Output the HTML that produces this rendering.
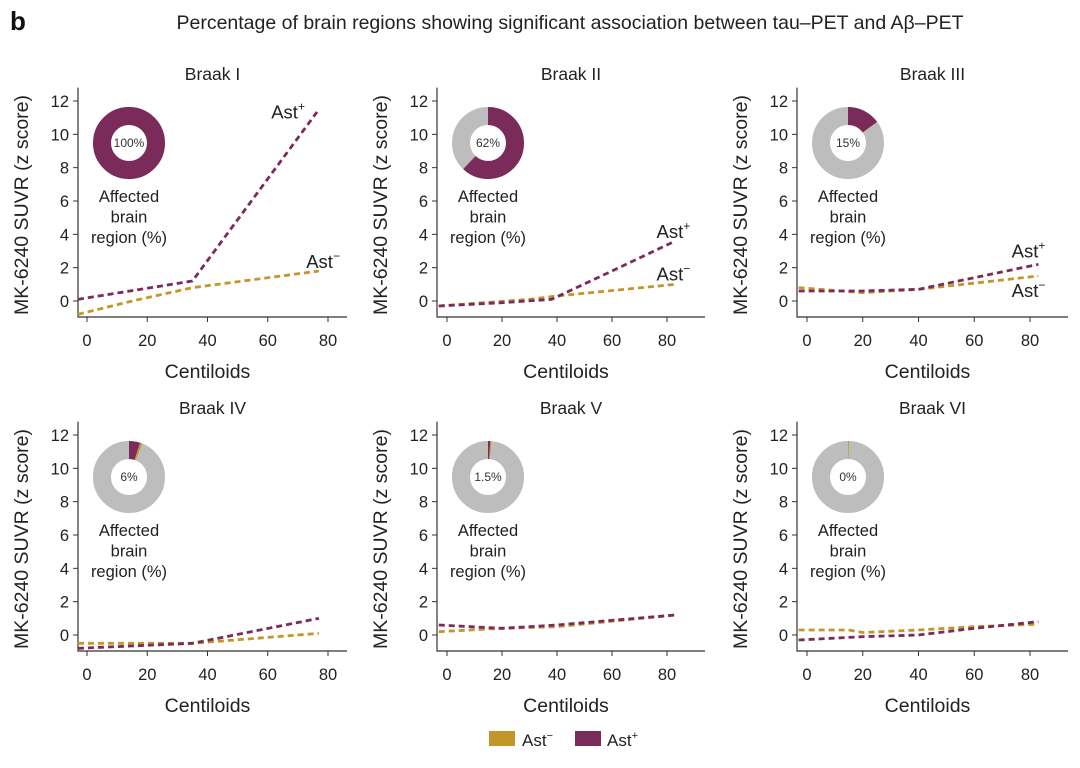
<!DOCTYPE html>
<html><head><meta charset="utf-8"><style>
body{margin:0;background:#fff;}
svg{display:block;font-family:"Liberation Sans",sans-serif;}
</style></head><body>
<svg id="chart" width="1080" height="768" viewBox="0 0 1080 768">
<text x="10" y="30" font-size="26" font-weight="bold" fill="#111">b</text>
<text x="570" y="29" font-size="19.5" fill="#222" text-anchor="middle">Percentage of brain regions showing significant association between tau–PET and Aβ–PET</text>
<g>
<rect x="489" y="731" width="26" height="15" fill="#c4962a"/>
<text x="522" y="746" font-size="17" fill="#222">Ast<tspan dy="-7" font-size="11">−</tspan></text>
<rect x="575" y="731" width="26" height="15" fill="#7b2b5a"/>
<text x="607" y="746" font-size="17" fill="#222">Ast<tspan dy="-7" font-size="11">+</tspan></text>
</g>
</svg>
<script>
const titles=["Braak I","Braak II","Braak III","Braak IV","Braak V","Braak VI"];
const pctLabels=["100%","62%","15%","6%","1.5%","0%"];
const posShare=[100,62,15,5,1,0];
const negShare=[0,0,0,1,0.5,0.4];
const posX=[[-3,35,77],[-3,20,38,60,83],[-3,20,40,83],[-3,35,77],[-3,20,40,83],[-3,20,40,60,83]];
const posY=[[0.1,1.2,11.5],[-0.3,-0.1,0.1,1.8,3.6],[0.6,0.6,0.7,2.2],[-0.8,-0.5,1.0],[0.6,0.4,0.6,1.2],[-0.3,-0.1,0,0.4,0.8]];
const negX=[[-3,15,35,77],[-3,30,40,83],[-3,20,40,83],[-3,35,77],[-3,20,40,83],[-3,15,20,40,60,83]];
const negY=[[-0.8,0,0.8,1.8],[-0.3,0.1,0.3,1.0],[0.8,0.5,0.7,1.5],[-0.5,-0.5,0.1],[0.2,0.4,0.5,1.2],[0.3,0.3,0.15,0.3,0.5,0.65]];
const yTicks=[0,2,4,6,8,10,12];
const xTicks=[0,20,40,60,80];
const showLabels=[true,true,true,false,false,false];
// label offsets relative to line end [dx,dy] for pos and neg
const posOff=[[-14,9],[15,-3],[7,-7]];
const negOff=[[21,-3],[15,-4],[7,21]];

const NS="http://www.w3.org/2000/svg";
const svg=document.getElementById('chart');
const PUR="#7b2b5a",GOLD="#c4962a",GREY="#bdbdbd";
function mk(t,a,p){const e=document.createElementNS(NS,t);for(const k in a)e.setAttribute(k,a[k]);(p||svg).appendChild(e);return e;}
const geo=[{ax:78,x0:87,x80:328,xe:347},{ax:437,x0:447,x80:667,xe:705},{ax:797,x0:807,x80:1030,xe:1068}];
for(let i=0;i<6;i++){
  const g=geo[i%3], row=Math.floor(i/3), off=row*334;
  const grp=mk('g',{});
  
  
  const xs=v=>g.x0+(g.x80-g.x0)*v/80;
  const ys=v=>301+off-(200/12)*v;
  const yb=317+off;
  const t=mk('text',{x:(g.ax+g.xe)/2,y:80+off,'font-size':17.5,'text-anchor':'middle',fill:'#222'},grp);t.textContent=titles[i];
  
  
  const axl=mk('path',{d:`M${g.ax},${ys(12.8)}V${yb}H${g.xe}`,stroke:'#333','stroke-width':1.2,fill:'none'},grp);
  
  
  yTicks.forEach(v=>{mk('line',{x1:g.ax-5,x2:g.ax,y1:ys(v),y2:ys(v),stroke:'#333'},grp);
    const l=mk('text',{x:g.ax-9,y:ys(v)+6,'font-size':16.5,'text-anchor':'end',fill:'#222'},grp);l.textContent=v;
    
    });
  xTicks.forEach(v=>{mk('line',{x1:xs(v),x2:xs(v),y1:yb,y2:yb+5,stroke:'#333'},grp);
    const l=mk('text',{x:xs(v),y:yb+29,'font-size':16.5,'text-anchor':'middle',fill:'#222'},grp);l.textContent=v;
    
    });
  const xt=mk('text',{x:(g.ax+g.xe)/2-5,y:yb+61,'font-size':19.5,'text-anchor':'middle',fill:'#222'},grp);xt.textContent='Centiloids';
  
  
  const yx=g.ax-50,yc=205+off;
  const yt=mk('text',{x:yx,y:yc,'font-size':19.5,'text-anchor':'middle',fill:'#222',transform:`rotate(-90 ${yx} ${yc})`},grp);yt.textContent='MK-6240 SUVR (z score)';
  
  
  const cx=g.ax+51,cy=143+off,R=36,r=18;
  mk('circle',{cx,cy,r:(R+r)/2,fill:'none',stroke:GREY,'stroke-width':R-r},grp);
  const C=2*Math.PI*(R+r)/2;
  const arc=(start,pct,col,nm)=>{if(pct<=0)return;const c=mk('circle',{cx,cy,r:(R+r)/2,fill:'none',stroke:col,'stroke-width':R-r,
    'stroke-dasharray':`${C*pct/100} ${C}`,'stroke-dashoffset':-C*start/100,transform:`rotate(-90 ${cx} ${cy})`},grp);
    
    };
  arc(0,posShare[i],PUR,'donut-ast-pos');
  arc(posShare[i],negShare[i],GOLD,'donut-ast-neg');
  const pl=mk('text',{x:cx,y:cy+4,'font-size':12,'text-anchor':'middle',fill:'#333'},grp);pl.textContent=pctLabels[i];
  
  
  ['Affected','brain','region (%)'].forEach((s,k)=>{const a=mk('text',{x:cx,y:cy+59+k*20.5,'font-size':16.5,'text-anchor':'middle',fill:'#222'},grp);a.textContent=s;
    
    });
  const pts=(X,Y)=>X.map((x,k)=>xs(x)+','+ys(Y[k])).join(' ');
  const ln=mk('polyline',{points:pts(negX[i],negY[i]),fill:'none',stroke:GOLD,'stroke-width':2.8,'stroke-dasharray':'6 4'},grp);
  
  
  const lp=mk('polyline',{points:pts(posX[i],posY[i]),fill:'none',stroke:PUR,'stroke-width':2.8,'stroke-dasharray':'6 4'},grp);
  
  
  if(showLabels[i]){
    const pe=posX[i].length-1,ne=negX[i].length-1;
    const a=mk('text',{x:xs(posX[i][pe])+posOff[i][0],y:ys(posY[i][pe])+posOff[i][1],'font-size':18.5,'text-anchor':'end',fill:'#222'},grp);a.innerHTML='Ast<tspan dy="-8" font-size="12">+</tspan>';
    
    
    const b=mk('text',{x:xs(negX[i][ne])+negOff[i][0],y:ys(negY[i][ne])+negOff[i][1],'font-size':18.5,'text-anchor':'end',fill:'#222'},grp);b.innerHTML='Ast<tspan dy="-8" font-size="12">−</tspan>';
    
    
  }
}
</script>
</body></html>
